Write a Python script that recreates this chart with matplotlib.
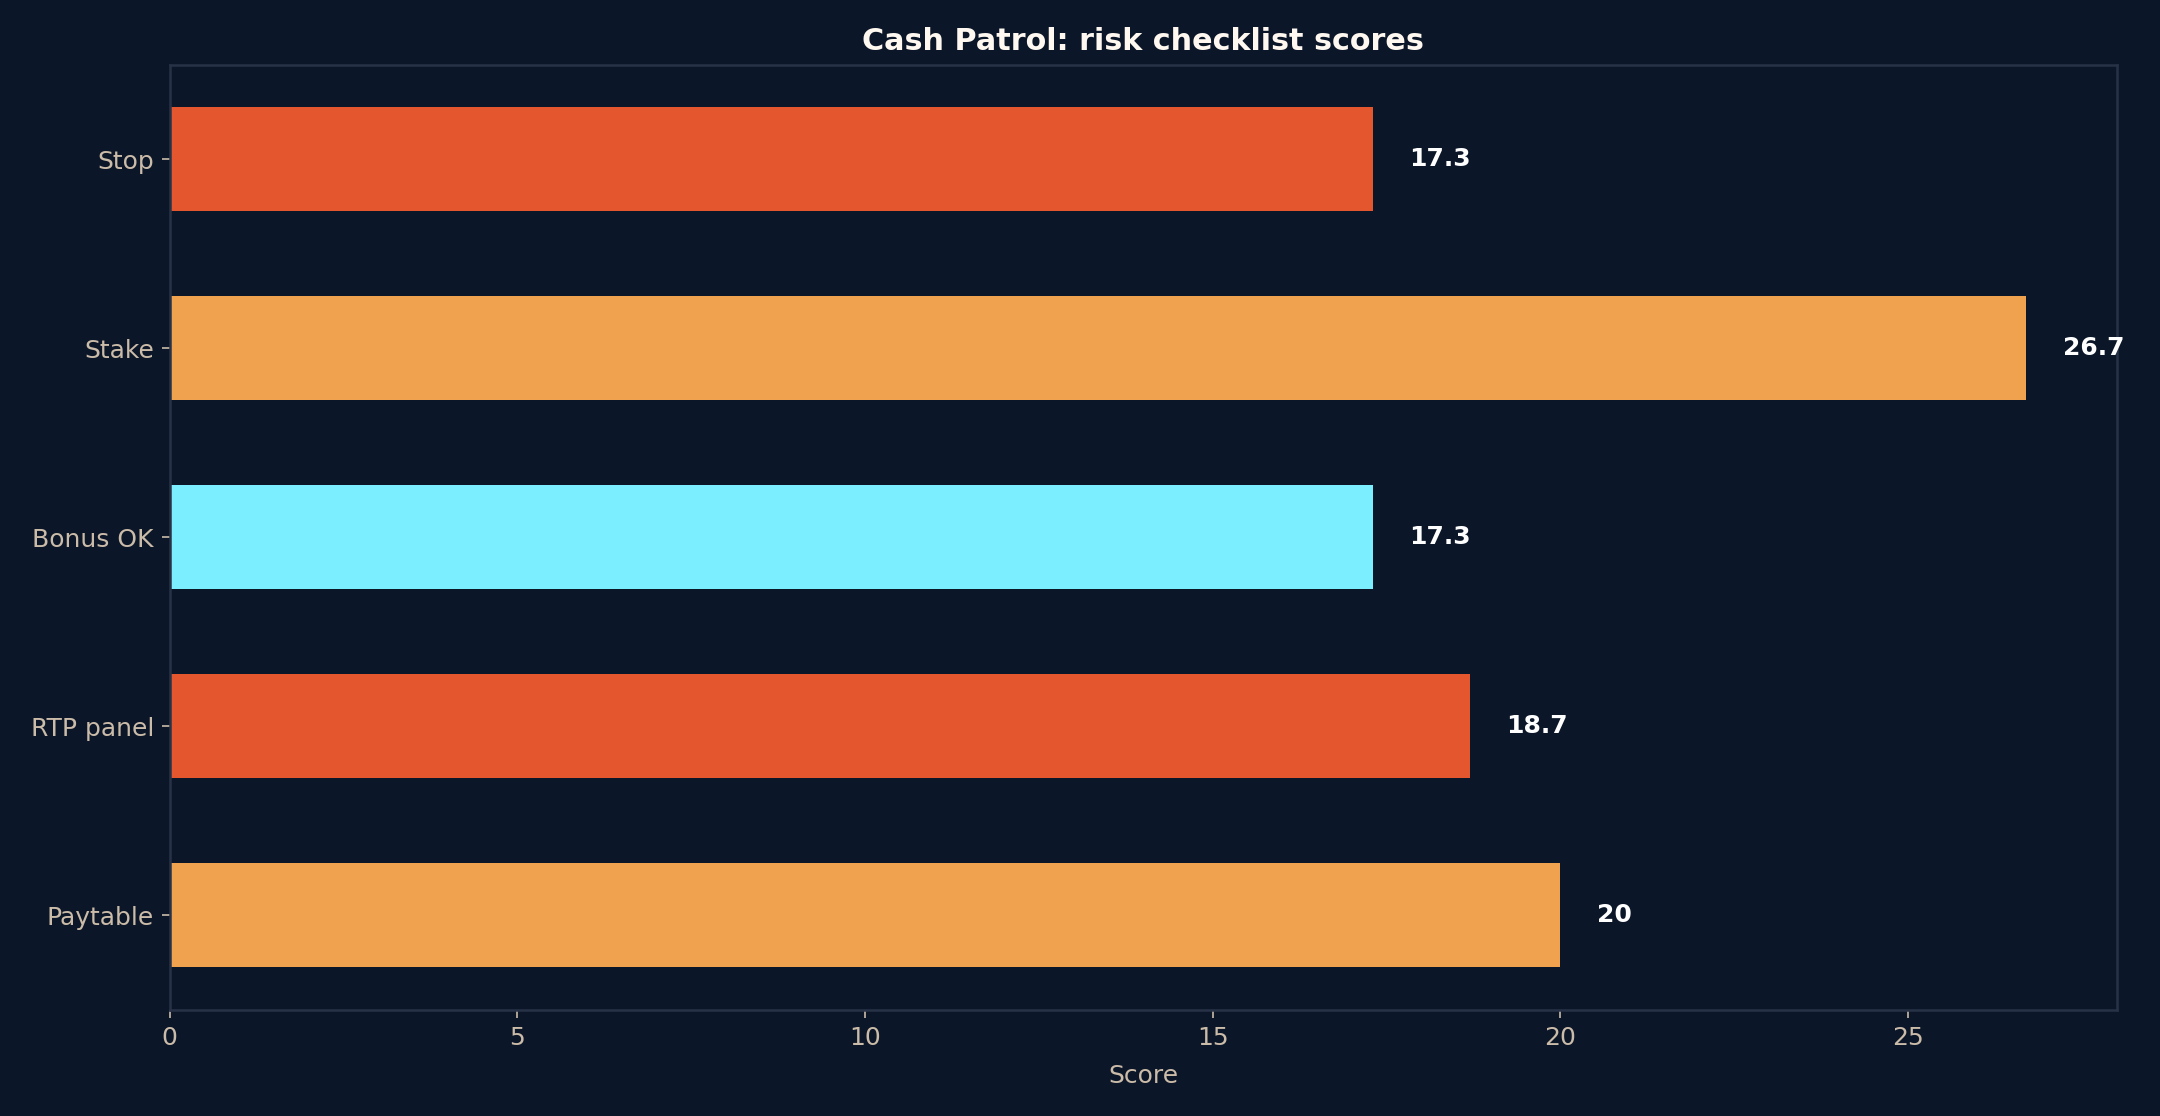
import matplotlib.pyplot as plt

categories = ['Paytable', 'RTP panel', 'Bonus OK', 'Stake', 'Stop']
scores = [20, 18.7, 17.3, 26.7, 17.3]
labels = ['20', '18.7', '17.3', '26.7', '17.3']
colors = ['#f0a24e', '#e4572e', '#7beeff', '#f0a24e', '#e4572e']

bg = '#0b1628'
txt = '#cbbba9'
edge = '#283247'

fig = plt.figure(figsize=(14.4, 7.44), dpi=150, facecolor=bg)
ax = fig.add_axes([0.0785, 0.095, 0.9015, 0.847])
ax.set_facecolor(bg)

ypos = list(range(len(categories)))
ax.barh(ypos, scores, height=0.55, color=colors)

for y, v, s in zip(ypos, scores, labels):
    ax.text(v + 0.52, y, s, va='center', ha='left', color='#ffffff',
            fontsize=12, fontweight='bold')

ax.set_yticks(ypos)
ax.set_yticklabels(categories)
ax.set_xlim(0, 28)
ax.set_ylim(-0.5, 4.5)
ax.set_xticks([0, 5, 10, 15, 20, 25])

ax.tick_params(colors=txt, labelsize=12, length=4)
for sp in ax.spines.values():
    sp.set_color(edge)
    sp.set_linewidth(1.2)

ax.set_xlabel('Score', color=txt, fontsize=12, labelpad=7)
ax.set_title('Cash Patrol: risk checklist scores', color='#fff8f0',
             fontsize=14.5, fontweight='bold', pad=7)

fig.savefig('out.png', dpi=150, facecolor=bg)
